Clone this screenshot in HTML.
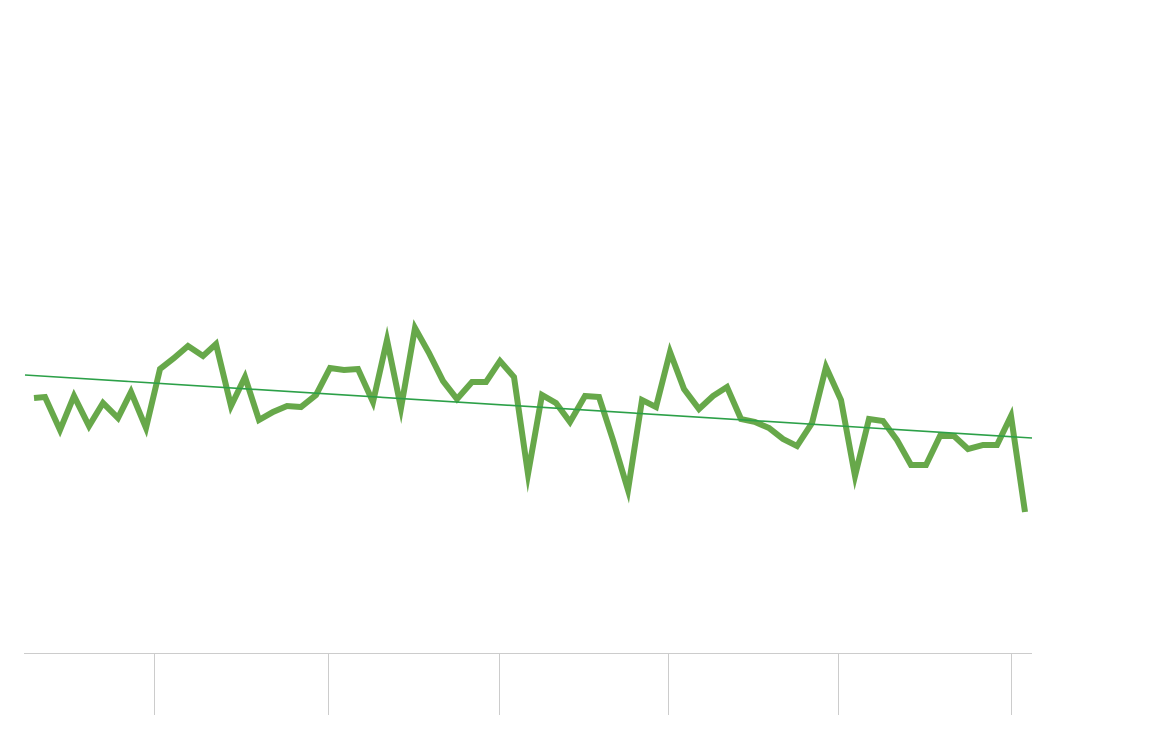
<!DOCTYPE html>
<html><head><meta charset="utf-8"><style>html,body{margin:0;padding:0;background:#fff;}</style></head>
<body>
<svg width="1164" height="730" viewBox="0 0 1164 730" xmlns="http://www.w3.org/2000/svg">
<line x1="24" y1="653.5" x2="1032" y2="653.5" stroke="#cccccc" stroke-width="1"/>
<g stroke="#cccccc" stroke-width="1">
<line x1="154.5" y1="653" x2="154.5" y2="715"/>
<line x1="328.5" y1="653" x2="328.5" y2="715"/>
<line x1="499.5" y1="653" x2="499.5" y2="715"/>
<line x1="668.5" y1="653" x2="668.5" y2="715"/>
<line x1="838.5" y1="653" x2="838.5" y2="715"/>
<line x1="1011.5" y1="653" x2="1011.5" y2="715"/>
</g>
<polyline fill="none" stroke="#67a84a" stroke-width="6" stroke-linejoin="miter" stroke-miterlimit="10" points="34,398 45,397 60,430 74,396 89,426 103,403 118,418 131,392 146,428 160,369 174,358 188,346 203,356 216,344 231,406 245,377 259,420 273,412 287,406 301,407 316,395 330,368 344,370 358,369 373,402 387,340 401,408 415,328 429,353 443,381 457,399 472,382 486,382 500,361 514,377 528,474 542,395 556,403 570,422 585,396 599,397 613,440 628,490 642,400 656,407 670,352 684,389 699,409 713,396 727,387 741,419 755,422 769,428 783,439 797,446 812,423 826,367 841,400 855,476 869,419 883,421 897,440 911,465 926,465 940,436 954,436 968,449 983,445 997,445 1011,416 1025,512"/>
<line x1="25" y1="375" x2="1032" y2="438" stroke="#2ca048" stroke-width="1.6"/>
</svg>
</body></html>
